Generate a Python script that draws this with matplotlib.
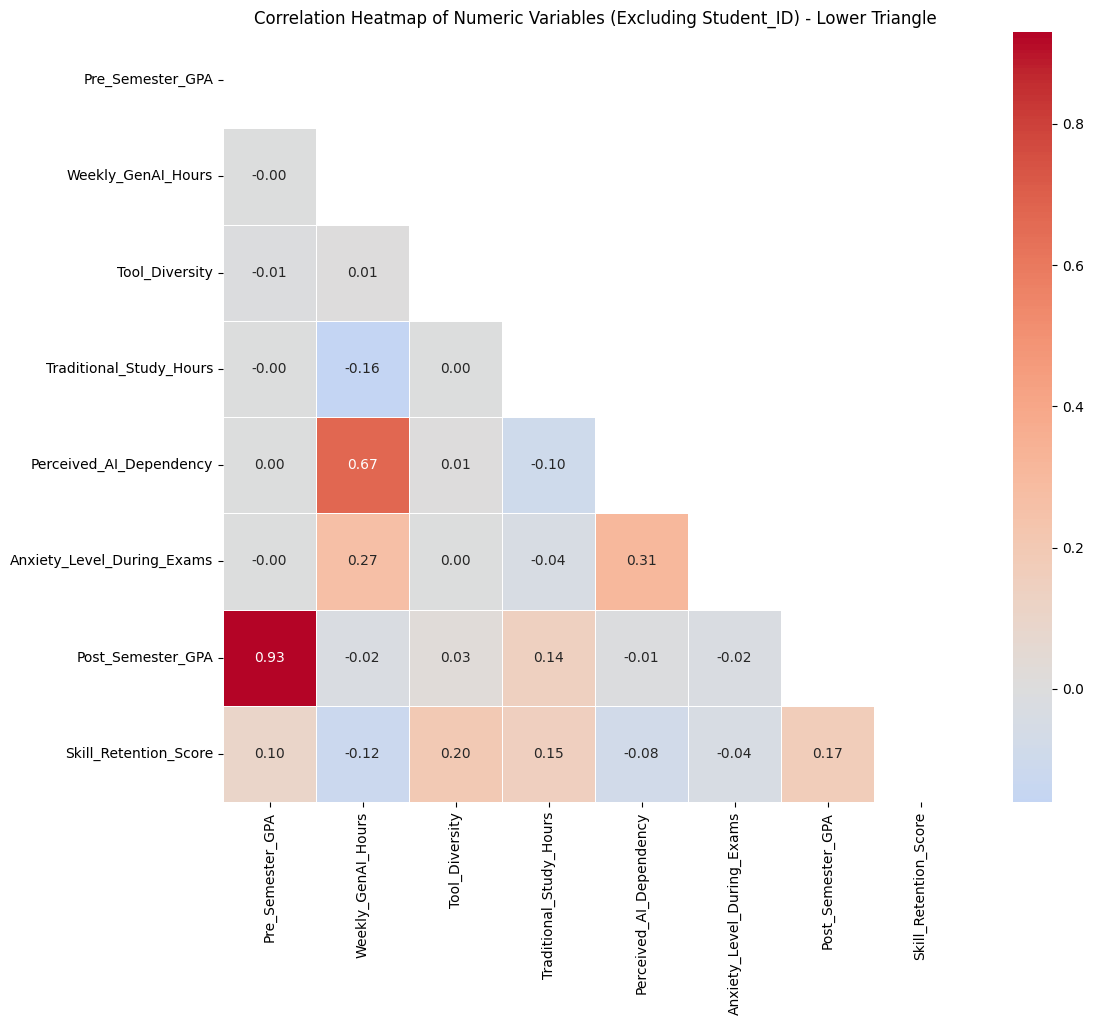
import numpy as np
import pandas as pd
import matplotlib
matplotlib.use("Agg")
import matplotlib.pyplot as plt
import seaborn as sns

variables = ["Pre_Semester_GPA", "Weekly_GenAI_Hours", "Tool_Diversity",
             "Traditional_Study_Hours", "Perceived_AI_Dependency",
             "Anxiety_Level_During_Exams", "Post_Semester_GPA",
             "Skill_Retention_Score"]

# lower triangle values, row by row
row_weekly = [-0.00]
row_tool = [-0.01, 0.01]
row_trad = [-0.00, -0.16, 0.00]
row_dep = [0.00, 0.67, 0.01, -0.10]
row_anx = [-0.00, 0.27, 0.00, -0.04, 0.31]
row_post = [0.93, -0.02, 0.03, 0.14, -0.01, -0.02]
row_skill = [0.10, -0.12, 0.20, 0.15, -0.08, -0.04, 0.17]

rows = [[], row_weekly, row_tool, row_trad, row_dep, row_anx, row_post, row_skill]
n = len(variables)
corr = np.eye(n)
for i, r in enumerate(rows):
    for j, v in enumerate(r):
        corr[i, j] = v
        corr[j, i] = v
corr = pd.DataFrame(corr, index=variables, columns=variables)

mask = np.triu(np.ones_like(corr, dtype=bool))

fig = plt.figure(figsize=(10.93, 10.25), dpi=100)
ax = fig.add_axes([223 / 1093, 1 - 802 / 1025, 744 / 1093, 770 / 1025])
cax = fig.add_axes([1013 / 1093, 1 - 802 / 1025, 39 / 1093, 770 / 1025])

sns.heatmap(corr, mask=mask, annot=True, fmt=".2f", cmap="coolwarm", center=0,
            linewidths=0.5, ax=ax, cbar_ax=cax)
ax.set_title("Correlation Heatmap of Numeric Variables (Excluding Student_ID) - Lower Triangle")
cax.tick_params(labelsize=10)

fig.savefig("out.png", dpi=100)
